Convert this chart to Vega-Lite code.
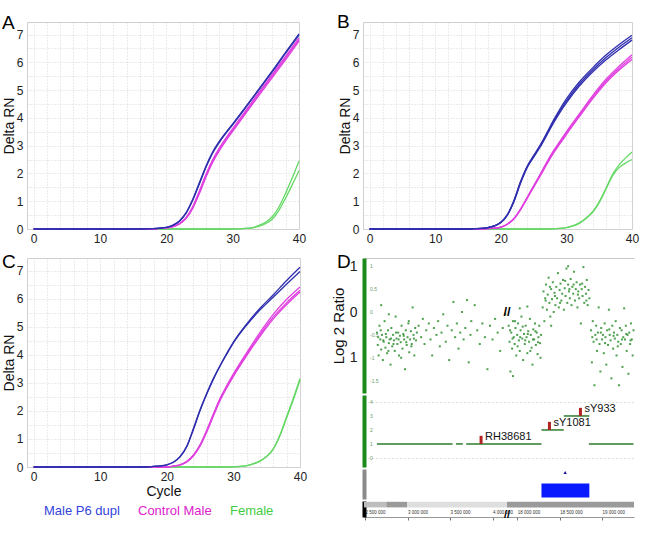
{
"$schema":"https://vega.github.io/schema/vega-lite/v6.json",
"autosize":{"type":"pad"},
"padding":{"left":1,"top":12,"right":0,"bottom":0},
"background":"white",
"config":{"font":"Liberation Sans","view":{"stroke":"#d0d0d0"},"axis":{"labelFont":"Liberation Sans","titleFont":"Liberation Sans","labelColor":"#222","titleColor":"#111","titleFontWeight":"normal","labelOverlap":false},"text":{"font":"Liberation Sans"},"title":{"font":"Liberation Sans","fontSize":19,"fontWeight":"normal","color":"#000","anchor":"start","frame":"group","baseline":"alphabetic"}},
"datasets":{
"A":[
{"g":"Female","r":1,"c":0,"v":0},{"g":"Female","r":1,"c":30,"v":0},{"g":"Female","r":1,"c":32,"v":0.02},{"g":"Female","r":1,"c":33,"v":0.05},{"g":"Female","r":1,"c":34,"v":0.13},{"g":"Female","r":1,"c":35,"v":0.25},{"g":"Female","r":1,"c":36,"v":0.45},{"g":"Female","r":1,"c":37,"v":0.8},{"g":"Female","r":1,"c":38,"v":1.3},{"g":"Female","r":1,"c":39,"v":1.85},{"g":"Female","r":1,"c":40,"v":2.45},
{"g":"Female","r":2,"c":0,"v":0},{"g":"Female","r":2,"c":30,"v":0},{"g":"Female","r":2,"c":32,"v":0.02},{"g":"Female","r":2,"c":33,"v":0.04},{"g":"Female","r":2,"c":34,"v":0.1},{"g":"Female","r":2,"c":35,"v":0.2},{"g":"Female","r":2,"c":36,"v":0.36},{"g":"Female","r":2,"c":37,"v":0.68},{"g":"Female","r":2,"c":38,"v":1.12},{"g":"Female","r":2,"c":39,"v":1.6},{"g":"Female","r":2,"c":40,"v":2.1},
{"g":"Control Male","r":1,"c":0,"v":0},{"g":"Control Male","r":1,"c":18,"v":0},{"g":"Control Male","r":1,"c":19,"v":0.02},{"g":"Control Male","r":1,"c":20,"v":0.04},{"g":"Control Male","r":1,"c":21,"v":0.09},{"g":"Control Male","r":1,"c":22,"v":0.2},{"g":"Control Male","r":1,"c":23,"v":0.42},{"g":"Control Male","r":1,"c":24,"v":0.82},{"g":"Control Male","r":1,"c":25,"v":1.38},{"g":"Control Male","r":1,"c":26,"v":1.98},{"g":"Control Male","r":1,"c":27,"v":2.5},{"g":"Control Male","r":1,"c":28,"v":2.92},{"g":"Control Male","r":1,"c":29,"v":3.28},{"g":"Control Male","r":1,"c":30,"v":3.61},{"g":"Control Male","r":1,"c":32,"v":4.27},{"g":"Control Male","r":1,"c":34,"v":4.93},{"g":"Control Male","r":1,"c":36,"v":5.57},{"g":"Control Male","r":1,"c":38,"v":6.22},{"g":"Control Male","r":1,"c":40,"v":6.88},
{"g":"Control Male","r":2,"c":0,"v":0},{"g":"Control Male","r":2,"c":18,"v":0},{"g":"Control Male","r":2,"c":19,"v":0.02},{"g":"Control Male","r":2,"c":20,"v":0.04},{"g":"Control Male","r":2,"c":21,"v":0.09},{"g":"Control Male","r":2,"c":22,"v":0.19},{"g":"Control Male","r":2,"c":23,"v":0.4},{"g":"Control Male","r":2,"c":24,"v":0.78},{"g":"Control Male","r":2,"c":25,"v":1.33},{"g":"Control Male","r":2,"c":26,"v":1.93},{"g":"Control Male","r":2,"c":27,"v":2.45},{"g":"Control Male","r":2,"c":28,"v":2.87},{"g":"Control Male","r":2,"c":29,"v":3.23},{"g":"Control Male","r":2,"c":30,"v":3.56},{"g":"Control Male","r":2,"c":32,"v":4.22},{"g":"Control Male","r":2,"c":34,"v":4.88},{"g":"Control Male","r":2,"c":36,"v":5.52},{"g":"Control Male","r":2,"c":38,"v":6.17},{"g":"Control Male","r":2,"c":40,"v":6.82},
{"g":"Control Male","r":3,"c":0,"v":0},{"g":"Control Male","r":3,"c":18,"v":0},{"g":"Control Male","r":3,"c":19,"v":0.02},{"g":"Control Male","r":3,"c":20,"v":0.04},{"g":"Control Male","r":3,"c":21,"v":0.08},{"g":"Control Male","r":3,"c":22,"v":0.18},{"g":"Control Male","r":3,"c":23,"v":0.38},{"g":"Control Male","r":3,"c":24,"v":0.75},{"g":"Control Male","r":3,"c":25,"v":1.28},{"g":"Control Male","r":3,"c":26,"v":1.88},{"g":"Control Male","r":3,"c":27,"v":2.4},{"g":"Control Male","r":3,"c":28,"v":2.82},{"g":"Control Male","r":3,"c":29,"v":3.18},{"g":"Control Male","r":3,"c":30,"v":3.51},{"g":"Control Male","r":3,"c":32,"v":4.17},{"g":"Control Male","r":3,"c":34,"v":4.82},{"g":"Control Male","r":3,"c":36,"v":5.46},{"g":"Control Male","r":3,"c":38,"v":6.1},{"g":"Control Male","r":3,"c":40,"v":6.76},
{"g":"Male P6 dupl","r":1,"c":0,"v":0},{"g":"Male P6 dupl","r":1,"c":16,"v":0},{"g":"Male P6 dupl","r":1,"c":18,"v":0.01},{"g":"Male P6 dupl","r":1,"c":19,"v":0.03},{"g":"Male P6 dupl","r":1,"c":20,"v":0.06},{"g":"Male P6 dupl","r":1,"c":21,"v":0.14},{"g":"Male P6 dupl","r":1,"c":22,"v":0.3},{"g":"Male P6 dupl","r":1,"c":23,"v":0.6},{"g":"Male P6 dupl","r":1,"c":24,"v":1.08},{"g":"Male P6 dupl","r":1,"c":25,"v":1.68},{"g":"Male P6 dupl","r":1,"c":26,"v":2.28},{"g":"Male P6 dupl","r":1,"c":27,"v":2.78},{"g":"Male P6 dupl","r":1,"c":28,"v":3.16},{"g":"Male P6 dupl","r":1,"c":29,"v":3.48},{"g":"Male P6 dupl","r":1,"c":30,"v":3.78},{"g":"Male P6 dupl","r":1,"c":32,"v":4.41},{"g":"Male P6 dupl","r":1,"c":34,"v":5.05},{"g":"Male P6 dupl","r":1,"c":36,"v":5.7},{"g":"Male P6 dupl","r":1,"c":38,"v":6.37},{"g":"Male P6 dupl","r":1,"c":40,"v":7.02},
{"g":"Male P6 dupl","r":2,"c":0,"v":0},{"g":"Male P6 dupl","r":2,"c":16,"v":0},{"g":"Male P6 dupl","r":2,"c":18,"v":0.01},{"g":"Male P6 dupl","r":2,"c":19,"v":0.03},{"g":"Male P6 dupl","r":2,"c":20,"v":0.06},{"g":"Male P6 dupl","r":2,"c":21,"v":0.13},{"g":"Male P6 dupl","r":2,"c":22,"v":0.28},{"g":"Male P6 dupl","r":2,"c":23,"v":0.57},{"g":"Male P6 dupl","r":2,"c":24,"v":1.04},{"g":"Male P6 dupl","r":2,"c":25,"v":1.63},{"g":"Male P6 dupl","r":2,"c":26,"v":2.23},{"g":"Male P6 dupl","r":2,"c":27,"v":2.74},{"g":"Male P6 dupl","r":2,"c":28,"v":3.12},{"g":"Male P6 dupl","r":2,"c":29,"v":3.45},{"g":"Male P6 dupl","r":2,"c":30,"v":3.75},{"g":"Male P6 dupl","r":2,"c":32,"v":4.38},{"g":"Male P6 dupl","r":2,"c":34,"v":5.02},{"g":"Male P6 dupl","r":2,"c":36,"v":5.66},{"g":"Male P6 dupl","r":2,"c":38,"v":6.33},{"g":"Male P6 dupl","r":2,"c":40,"v":6.98}
],
"B":[
{"g":"Female","r":1,"c":0,"v":0},{"g":"Female","r":1,"c":27,"v":0},{"g":"Female","r":1,"c":29,"v":0.02},{"g":"Female","r":1,"c":30,"v":0.05},{"g":"Female","r":1,"c":31,"v":0.11},{"g":"Female","r":1,"c":32,"v":0.22},{"g":"Female","r":1,"c":33,"v":0.4},{"g":"Female","r":1,"c":34,"v":0.62},{"g":"Female","r":1,"c":35,"v":0.98},{"g":"Female","r":1,"c":36,"v":1.45},{"g":"Female","r":1,"c":37,"v":1.95},{"g":"Female","r":1,"c":38,"v":2.3},{"g":"Female","r":1,"c":39,"v":2.55},{"g":"Female","r":1,"c":40,"v":2.77},
{"g":"Female","r":2,"c":0,"v":0},{"g":"Female","r":2,"c":27,"v":0},{"g":"Female","r":2,"c":29,"v":0.02},{"g":"Female","r":2,"c":30,"v":0.05},{"g":"Female","r":2,"c":31,"v":0.11},{"g":"Female","r":2,"c":32,"v":0.21},{"g":"Female","r":2,"c":33,"v":0.38},{"g":"Female","r":2,"c":34,"v":0.6},{"g":"Female","r":2,"c":35,"v":0.95},{"g":"Female","r":2,"c":36,"v":1.42},{"g":"Female","r":2,"c":37,"v":1.9},{"g":"Female","r":2,"c":38,"v":2.2},{"g":"Female","r":2,"c":39,"v":2.37},{"g":"Female","r":2,"c":40,"v":2.5},
{"g":"Control Male","r":1,"c":0,"v":0},{"g":"Control Male","r":1,"c":17,"v":0},{"g":"Control Male","r":1,"c":18,"v":0.01},{"g":"Control Male","r":1,"c":19,"v":0.03},{"g":"Control Male","r":1,"c":20,"v":0.07},{"g":"Control Male","r":1,"c":21,"v":0.18},{"g":"Control Male","r":1,"c":22,"v":0.38},{"g":"Control Male","r":1,"c":23,"v":0.72},{"g":"Control Male","r":1,"c":24,"v":1.13},{"g":"Control Male","r":1,"c":25,"v":1.55},{"g":"Control Male","r":1,"c":26,"v":1.97},{"g":"Control Male","r":1,"c":27,"v":2.4},{"g":"Control Male","r":1,"c":28,"v":2.8},{"g":"Control Male","r":1,"c":29,"v":3.15},{"g":"Control Male","r":1,"c":30,"v":3.5},{"g":"Control Male","r":1,"c":32,"v":4.15},{"g":"Control Male","r":1,"c":34,"v":4.8},{"g":"Control Male","r":1,"c":36,"v":5.38},{"g":"Control Male","r":1,"c":38,"v":5.85},{"g":"Control Male","r":1,"c":40,"v":6.27},
{"g":"Control Male","r":2,"c":0,"v":0},{"g":"Control Male","r":2,"c":17,"v":0},{"g":"Control Male","r":2,"c":18,"v":0.01},{"g":"Control Male","r":2,"c":19,"v":0.03},{"g":"Control Male","r":2,"c":20,"v":0.07},{"g":"Control Male","r":2,"c":21,"v":0.17},{"g":"Control Male","r":2,"c":22,"v":0.37},{"g":"Control Male","r":2,"c":23,"v":0.7},{"g":"Control Male","r":2,"c":24,"v":1.11},{"g":"Control Male","r":2,"c":25,"v":1.53},{"g":"Control Male","r":2,"c":26,"v":1.94},{"g":"Control Male","r":2,"c":27,"v":2.36},{"g":"Control Male","r":2,"c":28,"v":2.76},{"g":"Control Male","r":2,"c":29,"v":3.1},{"g":"Control Male","r":2,"c":30,"v":3.45},{"g":"Control Male","r":2,"c":32,"v":4.1},{"g":"Control Male","r":2,"c":34,"v":4.74},{"g":"Control Male","r":2,"c":36,"v":5.31},{"g":"Control Male","r":2,"c":38,"v":5.77},{"g":"Control Male","r":2,"c":40,"v":6.18},
{"g":"Control Male","r":3,"c":0,"v":0},{"g":"Control Male","r":3,"c":17,"v":0},{"g":"Control Male","r":3,"c":18,"v":0.01},{"g":"Control Male","r":3,"c":19,"v":0.03},{"g":"Control Male","r":3,"c":20,"v":0.06},{"g":"Control Male","r":3,"c":21,"v":0.17},{"g":"Control Male","r":3,"c":22,"v":0.36},{"g":"Control Male","r":3,"c":23,"v":0.69},{"g":"Control Male","r":3,"c":24,"v":1.09},{"g":"Control Male","r":3,"c":25,"v":1.5},{"g":"Control Male","r":3,"c":26,"v":1.9},{"g":"Control Male","r":3,"c":27,"v":2.32},{"g":"Control Male","r":3,"c":28,"v":2.72},{"g":"Control Male","r":3,"c":29,"v":3.06},{"g":"Control Male","r":3,"c":30,"v":3.4},{"g":"Control Male","r":3,"c":32,"v":4.05},{"g":"Control Male","r":3,"c":34,"v":4.68},{"g":"Control Male","r":3,"c":36,"v":5.25},{"g":"Control Male","r":3,"c":38,"v":5.71},{"g":"Control Male","r":3,"c":40,"v":6.1},
{"g":"Male P6 dupl","r":1,"c":0,"v":0},{"g":"Male P6 dupl","r":1,"c":15,"v":0},{"g":"Male P6 dupl","r":1,"c":16,"v":0.01},{"g":"Male P6 dupl","r":1,"c":17,"v":0.02},{"g":"Male P6 dupl","r":1,"c":18,"v":0.05},{"g":"Male P6 dupl","r":1,"c":19,"v":0.11},{"g":"Male P6 dupl","r":1,"c":20,"v":0.24},{"g":"Male P6 dupl","r":1,"c":21,"v":0.52},{"g":"Male P6 dupl","r":1,"c":22,"v":1.03},{"g":"Male P6 dupl","r":1,"c":23,"v":1.7},{"g":"Male P6 dupl","r":1,"c":24,"v":2.25},{"g":"Male P6 dupl","r":1,"c":25,"v":2.64},{"g":"Male P6 dupl","r":1,"c":26,"v":3.02},{"g":"Male P6 dupl","r":1,"c":27,"v":3.45},{"g":"Male P6 dupl","r":1,"c":28,"v":3.9},{"g":"Male P6 dupl","r":1,"c":29,"v":4.31},{"g":"Male P6 dupl","r":1,"c":30,"v":4.68},{"g":"Male P6 dupl","r":1,"c":32,"v":5.3},{"g":"Male P6 dupl","r":1,"c":34,"v":5.8},{"g":"Male P6 dupl","r":1,"c":36,"v":6.25},{"g":"Male P6 dupl","r":1,"c":38,"v":6.63},{"g":"Male P6 dupl","r":1,"c":40,"v":6.97},
{"g":"Male P6 dupl","r":2,"c":0,"v":0},{"g":"Male P6 dupl","r":2,"c":15,"v":0},{"g":"Male P6 dupl","r":2,"c":16,"v":0.01},{"g":"Male P6 dupl","r":2,"c":17,"v":0.02},{"g":"Male P6 dupl","r":2,"c":18,"v":0.05},{"g":"Male P6 dupl","r":2,"c":19,"v":0.11},{"g":"Male P6 dupl","r":2,"c":20,"v":0.23},{"g":"Male P6 dupl","r":2,"c":21,"v":0.5},{"g":"Male P6 dupl","r":2,"c":22,"v":1.0},{"g":"Male P6 dupl","r":2,"c":23,"v":1.67},{"g":"Male P6 dupl","r":2,"c":24,"v":2.22},{"g":"Male P6 dupl","r":2,"c":25,"v":2.61},{"g":"Male P6 dupl","r":2,"c":26,"v":2.98},{"g":"Male P6 dupl","r":2,"c":27,"v":3.41},{"g":"Male P6 dupl","r":2,"c":28,"v":3.85},{"g":"Male P6 dupl","r":2,"c":29,"v":4.25},{"g":"Male P6 dupl","r":2,"c":30,"v":4.6},{"g":"Male P6 dupl","r":2,"c":32,"v":5.22},{"g":"Male P6 dupl","r":2,"c":34,"v":5.72},{"g":"Male P6 dupl","r":2,"c":36,"v":6.16},{"g":"Male P6 dupl","r":2,"c":38,"v":6.54},{"g":"Male P6 dupl","r":2,"c":40,"v":6.88},
{"g":"Male P6 dupl","r":3,"c":0,"v":0},{"g":"Male P6 dupl","r":3,"c":15,"v":0},{"g":"Male P6 dupl","r":3,"c":16,"v":0.01},{"g":"Male P6 dupl","r":3,"c":17,"v":0.02},{"g":"Male P6 dupl","r":3,"c":18,"v":0.05},{"g":"Male P6 dupl","r":3,"c":19,"v":0.1},{"g":"Male P6 dupl","r":3,"c":20,"v":0.23},{"g":"Male P6 dupl","r":3,"c":21,"v":0.5},{"g":"Male P6 dupl","r":3,"c":22,"v":0.98},{"g":"Male P6 dupl","r":3,"c":23,"v":1.64},{"g":"Male P6 dupl","r":3,"c":24,"v":2.2},{"g":"Male P6 dupl","r":3,"c":25,"v":2.58},{"g":"Male P6 dupl","r":3,"c":26,"v":2.95},{"g":"Male P6 dupl","r":3,"c":27,"v":3.37},{"g":"Male P6 dupl","r":3,"c":28,"v":3.8},{"g":"Male P6 dupl","r":3,"c":29,"v":4.19},{"g":"Male P6 dupl","r":3,"c":30,"v":4.54},{"g":"Male P6 dupl","r":3,"c":32,"v":5.15},{"g":"Male P6 dupl","r":3,"c":34,"v":5.65},{"g":"Male P6 dupl","r":3,"c":36,"v":6.08},{"g":"Male P6 dupl","r":3,"c":38,"v":6.45},{"g":"Male P6 dupl","r":3,"c":40,"v":6.8}
],
"C":[
{"g":"Female","r":1,"c":0,"v":0},{"g":"Female","r":1,"c":29,"v":0},{"g":"Female","r":1,"c":31,"v":0.02},{"g":"Female","r":1,"c":32,"v":0.05},{"g":"Female","r":1,"c":33,"v":0.12},{"g":"Female","r":1,"c":34,"v":0.22},{"g":"Female","r":1,"c":35,"v":0.38},{"g":"Female","r":1,"c":36,"v":0.66},{"g":"Female","r":1,"c":37,"v":1.15},{"g":"Female","r":1,"c":38,"v":1.8},{"g":"Female","r":1,"c":39,"v":2.45},{"g":"Female","r":1,"c":40,"v":3.15},
{"g":"Female","r":2,"c":0,"v":0},{"g":"Female","r":2,"c":29,"v":0},{"g":"Female","r":2,"c":31,"v":0.02},{"g":"Female","r":2,"c":32,"v":0.05},{"g":"Female","r":2,"c":33,"v":0.11},{"g":"Female","r":2,"c":34,"v":0.21},{"g":"Female","r":2,"c":35,"v":0.37},{"g":"Female","r":2,"c":36,"v":0.64},{"g":"Female","r":2,"c":37,"v":1.12},{"g":"Female","r":2,"c":38,"v":1.76},{"g":"Female","r":2,"c":39,"v":2.4},{"g":"Female","r":2,"c":40,"v":3.1},
{"g":"Control Male","r":1,"c":0,"v":0},{"g":"Control Male","r":1,"c":20,"v":0},{"g":"Control Male","r":1,"c":21,"v":0.03},{"g":"Control Male","r":1,"c":22,"v":0.08},{"g":"Control Male","r":1,"c":23,"v":0.2},{"g":"Control Male","r":1,"c":24,"v":0.43},{"g":"Control Male","r":1,"c":25,"v":0.8},{"g":"Control Male","r":1,"c":26,"v":1.32},{"g":"Control Male","r":1,"c":27,"v":1.9},{"g":"Control Male","r":1,"c":28,"v":2.45},{"g":"Control Male","r":1,"c":29,"v":2.9},{"g":"Control Male","r":1,"c":30,"v":3.32},{"g":"Control Male","r":1,"c":32,"v":4.08},{"g":"Control Male","r":1,"c":34,"v":4.8},{"g":"Control Male","r":1,"c":36,"v":5.45},{"g":"Control Male","r":1,"c":38,"v":5.98},{"g":"Control Male","r":1,"c":40,"v":6.42},
{"g":"Control Male","r":2,"c":0,"v":0},{"g":"Control Male","r":2,"c":20,"v":0},{"g":"Control Male","r":2,"c":21,"v":0.03},{"g":"Control Male","r":2,"c":22,"v":0.08},{"g":"Control Male","r":2,"c":23,"v":0.19},{"g":"Control Male","r":2,"c":24,"v":0.41},{"g":"Control Male","r":2,"c":25,"v":0.77},{"g":"Control Male","r":2,"c":26,"v":1.28},{"g":"Control Male","r":2,"c":27,"v":1.86},{"g":"Control Male","r":2,"c":28,"v":2.41},{"g":"Control Male","r":2,"c":29,"v":2.86},{"g":"Control Male","r":2,"c":30,"v":3.27},{"g":"Control Male","r":2,"c":32,"v":4.02},{"g":"Control Male","r":2,"c":34,"v":4.72},{"g":"Control Male","r":2,"c":36,"v":5.35},{"g":"Control Male","r":2,"c":38,"v":5.86},{"g":"Control Male","r":2,"c":40,"v":6.3},
{"g":"Control Male","r":3,"c":0,"v":0},{"g":"Control Male","r":3,"c":20,"v":0},{"g":"Control Male","r":3,"c":21,"v":0.03},{"g":"Control Male","r":3,"c":22,"v":0.07},{"g":"Control Male","r":3,"c":23,"v":0.18},{"g":"Control Male","r":3,"c":24,"v":0.4},{"g":"Control Male","r":3,"c":25,"v":0.75},{"g":"Control Male","r":3,"c":26,"v":1.25},{"g":"Control Male","r":3,"c":27,"v":1.82},{"g":"Control Male","r":3,"c":28,"v":2.37},{"g":"Control Male","r":3,"c":29,"v":2.82},{"g":"Control Male","r":3,"c":30,"v":3.23},{"g":"Control Male","r":3,"c":32,"v":3.97},{"g":"Control Male","r":3,"c":34,"v":4.66},{"g":"Control Male","r":3,"c":36,"v":5.28},{"g":"Control Male","r":3,"c":38,"v":5.79},{"g":"Control Male","r":3,"c":40,"v":6.24},
{"g":"Male P6 dupl","r":1,"c":0,"v":0},{"g":"Male P6 dupl","r":1,"c":17,"v":0},{"g":"Male P6 dupl","r":1,"c":18,"v":0.02},{"g":"Male P6 dupl","r":1,"c":19,"v":0.04},{"g":"Male P6 dupl","r":1,"c":20,"v":0.08},{"g":"Male P6 dupl","r":1,"c":21,"v":0.18},{"g":"Male P6 dupl","r":1,"c":22,"v":0.38},{"g":"Male P6 dupl","r":1,"c":23,"v":0.75},{"g":"Male P6 dupl","r":1,"c":24,"v":1.38},{"g":"Male P6 dupl","r":1,"c":25,"v":2.05},{"g":"Male P6 dupl","r":1,"c":26,"v":2.63},{"g":"Male P6 dupl","r":1,"c":27,"v":3.16},{"g":"Male P6 dupl","r":1,"c":28,"v":3.62},{"g":"Male P6 dupl","r":1,"c":29,"v":4.05},{"g":"Male P6 dupl","r":1,"c":30,"v":4.45},{"g":"Male P6 dupl","r":1,"c":32,"v":5.1},{"g":"Male P6 dupl","r":1,"c":34,"v":5.66},{"g":"Male P6 dupl","r":1,"c":36,"v":6.14},{"g":"Male P6 dupl","r":1,"c":38,"v":6.65},{"g":"Male P6 dupl","r":1,"c":40,"v":7.12},
{"g":"Male P6 dupl","r":2,"c":0,"v":0},{"g":"Male P6 dupl","r":2,"c":17,"v":0},{"g":"Male P6 dupl","r":2,"c":18,"v":0.02},{"g":"Male P6 dupl","r":2,"c":19,"v":0.04},{"g":"Male P6 dupl","r":2,"c":20,"v":0.08},{"g":"Male P6 dupl","r":2,"c":21,"v":0.17},{"g":"Male P6 dupl","r":2,"c":22,"v":0.36},{"g":"Male P6 dupl","r":2,"c":23,"v":0.72},{"g":"Male P6 dupl","r":2,"c":24,"v":1.34},{"g":"Male P6 dupl","r":2,"c":25,"v":2.01},{"g":"Male P6 dupl","r":2,"c":26,"v":2.6},{"g":"Male P6 dupl","r":2,"c":27,"v":3.13},{"g":"Male P6 dupl","r":2,"c":28,"v":3.6},{"g":"Male P6 dupl","r":2,"c":29,"v":4.02},{"g":"Male P6 dupl","r":2,"c":30,"v":4.42},{"g":"Male P6 dupl","r":2,"c":32,"v":5.06},{"g":"Male P6 dupl","r":2,"c":34,"v":5.6},{"g":"Male P6 dupl","r":2,"c":36,"v":6.06},{"g":"Male P6 dupl","r":2,"c":38,"v":6.52},{"g":"Male P6 dupl","r":2,"c":40,"v":6.97}
],
"D":[
{"p":2.64,"r":-0.45},{"p":2.65,"r":-0.72},{"p":2.66,"r":-0.95},{"p":2.67,"r":-0.3},{"p":2.68,"r":-0.6},{"p":2.69,"r":-0.82},{"p":2.7,"r":-0.5},{"p":2.71,"r":-1.05},{"p":2.72,"r":-0.65},{"p":2.73,"r":-0.2},{"p":2.74,"r":-0.78},{"p":2.75,"r":-0.55},{"p":2.76,"r":-0.9},{"p":2.77,"r":-0.4},{"p":2.78,"r":-0.68},{"p":2.79,"r":-0.6},{"p":2.8,"r":-1.15},{"p":2.81,"r":-0.35},{"p":2.82,"r":-0.75},{"p":2.83,"r":-0.5},{"p":2.84,"r":-0.62},{"p":2.85,"r":-0.85},{"p":2.86,"r":-0.1},{"p":2.87,"r":-0.58},{"p":2.88,"r":-0.7},{"p":2.89,"r":-0.45},{"p":2.9,"r":-0.95},{"p":2.91,"r":-0.52},{"p":2.92,"r":-0.66},{"p":2.93,"r":-0.3},{"p":2.94,"r":-0.8},{"p":2.95,"r":-0.48},{"p":2.96,"r":-0.6},{"p":2.97,"r":-1.25},{"p":2.98,"r":-0.4},{"p":2.99,"r":-0.72},{"p":3.0,"r":-0.55},{"p":3.01,"r":-0.25},{"p":3.02,"r":-0.88},{"p":3.03,"r":-0.6},{"p":3.04,"r":-0.42},{"p":3.05,"r":-0.7},{"p":3.06,"r":0.1},{"p":3.07,"r":-0.5},{"p":3.08,"r":-0.95},{"p":3.09,"r":-0.35},{"p":3.1,"r":-0.62},{"p":3.11,"r":-0.45},
{"p":2.655,"r":-0.55},{"p":2.685,"r":-0.4},{"p":2.715,"r":-0.62},{"p":2.745,"r":-0.48},{"p":2.775,"r":-0.85},{"p":2.805,"r":-0.58},{"p":2.835,"r":-0.7},{"p":2.865,"r":-0.45},{"p":2.895,"r":-0.6},{"p":2.925,"r":-1.0},{"p":2.955,"r":-0.52},{"p":2.985,"r":-0.66},{"p":3.015,"r":-0.2},{"p":3.045,"r":-0.75},{"p":3.075,"r":-0.58},{"p":2.69,"r":0.15},{"p":2.78,"r":-0.05},
{"p":3.13,"r":-0.3},{"p":3.16,"r":-0.55},{"p":3.18,"r":-0.15},{"p":3.2,"r":-0.7},{"p":3.22,"r":-0.4},{"p":3.25,"r":-0.25},{"p":3.27,"r":-0.6},{"p":3.29,"r":-0.95},{"p":3.31,"r":-0.35},{"p":3.34,"r":-0.5},{"p":3.36,"r":-0.2},{"p":3.38,"r":-0.75},{"p":3.4,"r":-0.45},{"p":3.42,"r":-0.05},{"p":3.45,"r":-0.65},{"p":3.47,"r":-0.3},{"p":3.49,"r":-1.05},{"p":3.52,"r":-0.4},{"p":3.54,"r":0.22},{"p":3.56,"r":-0.55},{"p":3.58,"r":-0.25},{"p":3.6,"r":-0.8},{"p":3.62,"r":-0.45},{"p":3.64,"r":0.0},{"p":3.66,"r":-0.6},{"p":3.68,"r":-0.35},{"p":3.7,"r":0.26},{"p":3.72,"r":-1.1},{"p":3.74,"r":-0.5},{"p":3.75,"r":-0.2},
{"p":3.79,"r":0.15},{"p":3.82,"r":-0.4},{"p":3.85,"r":-0.7},{"p":3.88,"r":-0.25},{"p":3.91,"r":-0.55},{"p":3.94,"r":-1.25},{"p":3.97,"r":-0.3},{"p":4.0,"r":-0.6},{"p":4.03,"r":-0.15},{"p":4.06,"r":-0.45},{"p":4.09,"r":-0.85},{"p":4.12,"r":-0.35},{"p":4.15,"r":-0.05},
{"p":17.9,"r":-0.3},{"p":17.91,"r":-0.65},{"p":17.92,"r":-1.3},{"p":17.93,"r":-0.45},{"p":17.94,"r":-0.8},{"p":17.95,"r":-0.2},{"p":17.96,"r":-0.55},{"p":17.97,"r":-0.7},{"p":17.98,"r":-0.35},{"p":17.99,"r":-0.95},{"p":18.0,"r":-0.5},{"p":18.01,"r":-0.25},{"p":18.02,"r":-0.62},{"p":18.03,"r":-0.85},{"p":18.04,"r":-0.4},{"p":18.05,"r":-0.1},{"p":18.06,"r":-0.58},{"p":18.07,"r":-1.05},{"p":18.08,"r":-0.48},{"p":18.09,"r":-0.7},{"p":18.1,"r":-0.3},{"p":18.11,"r":-0.55},{"p":18.12,"r":-0.9},{"p":18.13,"r":-0.42},{"p":18.14,"r":-0.65},{"p":18.15,"r":-0.15},{"p":18.16,"r":-0.5},{"p":18.17,"r":-0.78},{"p":18.18,"r":-1.15},{"p":18.19,"r":-0.38},{"p":18.2,"r":-0.6},{"p":18.21,"r":-0.25},{"p":18.22,"r":-0.72},{"p":18.23,"r":-0.45},{"p":18.24,"r":-0.92},{"p":18.25,"r":-0.55},{"p":18.26,"r":-0.3},{"p":18.27,"r":-0.68},{"p":18.28,"r":-0.5},
{"p":17.915,"r":-0.4},{"p":17.945,"r":-0.58},{"p":17.975,"r":-0.2},{"p":18.005,"r":-0.75},{"p":18.035,"r":-0.55},{"p":18.065,"r":-0.32},{"p":18.095,"r":-0.62},{"p":18.125,"r":-0.48},{"p":18.155,"r":-0.85},{"p":18.185,"r":-0.6},{"p":18.215,"r":-0.42},{"p":18.245,"r":-0.66},{"p":18.275,"r":-1.0},{"p":18.03,"r":0.08},{"p":18.12,"r":0.12},{"p":17.95,"r":-1.4},
{"p":18.3,"r":0.1},{"p":18.31,"r":0.45},{"p":18.32,"r":-0.2},{"p":18.33,"r":0.3},{"p":18.34,"r":0.6},{"p":18.35,"r":0.05},{"p":18.36,"r":0.38},{"p":18.37,"r":0.75},{"p":18.38,"r":0.2},{"p":18.39,"r":-0.1},{"p":18.4,"r":0.5},{"p":18.41,"r":0.28},{"p":18.42,"r":0.65},{"p":18.43,"r":0.0},{"p":18.44,"r":0.42},{"p":18.45,"r":0.15},{"p":18.46,"r":0.55},{"p":18.47,"r":0.3},{"p":18.48,"r":0.85},{"p":18.49,"r":0.1},{"p":18.5,"r":0.48},{"p":18.51,"r":0.62},{"p":18.52,"r":0.25},{"p":18.53,"r":0.4},{"p":18.54,"r":0.7},{"p":18.55,"r":0.05},{"p":18.56,"r":0.52},{"p":18.57,"r":0.35},{"p":18.58,"r":0.95},{"p":18.59,"r":0.2},{"p":18.6,"r":0.6},{"p":18.61,"r":0.45},{"p":18.62,"r":0.3},{"p":18.63,"r":0.72},{"p":18.64,"r":0.15},{"p":18.65,"r":0.55},{"p":18.66,"r":0.4},{"p":18.67,"r":0.88},{"p":18.68,"r":0.25},{"p":18.69,"r":0.5},{"p":18.7,"r":0.65},{"p":18.71,"r":0.1},{"p":18.72,"r":0.45},{"p":18.73,"r":0.3},{"p":18.74,"r":0.6},{"p":18.75,"r":-0.25},{"p":18.76,"r":0.5},{"p":18.77,"r":0.35},{"p":18.78,"r":0.98},{"p":18.79,"r":0.2},{"p":18.8,"r":0.55},{"p":18.81,"r":0.4},{"p":18.82,"r":0.7},{"p":18.83,"r":0.15},{"p":18.84,"r":0.48},{"p":18.85,"r":0.3},
{"p":18.335,"r":0.25},{"p":18.385,"r":0.55},{"p":18.445,"r":0.35},{"p":18.505,"r":0.2},{"p":18.565,"r":0.68},{"p":18.615,"r":0.5},{"p":18.665,"r":0.6},{"p":18.715,"r":0.38},{"p":18.765,"r":0.62},{"p":18.815,"r":0.25},{"p":18.4,"r":-0.3},{"p":18.6,"r":1.0},
{"p":18.87,"r":-0.4},{"p":18.88,"r":-1.1},{"p":18.89,"r":-0.2},{"p":18.9,"r":-0.65},{"p":18.91,"r":-1.6},{"p":18.92,"r":-0.5},{"p":18.93,"r":-0.3},{"p":18.94,"r":-0.85},{"p":18.95,"r":-0.45},{"p":18.96,"r":0.1},{"p":18.97,"r":-0.7},{"p":18.98,"r":-1.3},{"p":18.99,"r":-0.35},{"p":19.0,"r":-0.6},{"p":19.01,"r":-0.5},{"p":19.02,"r":-0.9},{"p":19.03,"r":-0.25},{"p":19.04,"r":-0.55},{"p":19.05,"r":-1.15},{"p":19.06,"r":-0.4},{"p":19.07,"r":-0.72},{"p":19.08,"r":0.05},{"p":19.09,"r":-0.5},{"p":19.1,"r":-0.62},{"p":19.11,"r":-1.45},{"p":19.12,"r":-0.3},{"p":19.13,"r":-0.8},{"p":19.14,"r":-0.45},{"p":19.15,"r":-0.58},{"p":19.16,"r":-0.2},{"p":19.17,"r":-0.95},{"p":19.18,"r":-0.5},{"p":19.19,"r":-0.65},{"p":19.2,"r":-1.6},{"p":19.21,"r":-0.35},{"p":19.22,"r":-0.7},{"p":19.23,"r":-0.4},{"p":19.24,"r":-1.2},{"p":19.25,"r":-0.55},{"p":19.26,"r":0.08},{"p":19.27,"r":-0.6},{"p":19.28,"r":-0.3},{"p":19.29,"r":-0.85},{"p":19.3,"r":-0.5},{"p":19.31,"r":-1.35},{"p":19.32,"r":-0.45},{"p":19.33,"r":-0.7},{"p":19.34,"r":-0.25},{"p":19.35,"r":-0.6},{"p":19.36,"r":-0.95},{"p":19.37,"r":-0.4},
{"p":18.885,"r":-0.55},{"p":18.935,"r":-0.6},{"p":18.985,"r":-0.45},{"p":19.035,"r":-0.68},{"p":19.085,"r":-0.38},{"p":19.135,"r":-0.52},{"p":19.185,"r":-0.75},{"p":19.235,"r":-0.6},{"p":19.285,"r":-0.48},{"p":19.335,"r":-0.62}
],
"segs":[{"x1":2.64,"x2":3.53,"lvl":1},{"x1":3.57,"x2":3.65,"lvl":1},{"x1":3.69,"x2":18.286,"lvl":1},{"x1":18.844,"x2":19.37,"lvl":1},{"x1":18.286,"x2":18.549,"lvl":2},{"x1":18.549,"x2":18.85,"lvl":3}],
"probes":[{"name":"RH38681","x":3.865,"lvl":1,"top":1.58},{"name":"sY1081","x":18.38,"lvl":2,"top":2.58},{"name":"sY933","x":18.745,"lvl":3,"top":3.58}]
},
"vconcat":[
{"hconcat":[
{"width":272,"height":207,
 "title":{"text":"A","dx":-25,"offset":-11},
 "data":{"name":"A"},"mark":{"type":"line","strokeWidth":1.3,"interpolate":"monotone"},
  "encoding":{
   "x":{"field":"c","type":"quantitative","scale":{"domain":[-1,40],"nice":false,"zero":false},"axis":{"title":null,"values":[0,2,4,6,8,10,12,14,16,18,20,22,24,26,28,30,32,34,36,38,40],"labelExpr":"datum.value % 10 === 0 ? format(datum.value, 'd') : ''","labelOverlap":false,"grid":true,"gridColor":"#d6d6d6","gridDash":[1,2],"domain":false,"ticks":false,"labelFontSize":12,"labelPadding":4,"labelFlush":false}},
   "y":{"field":"v","type":"quantitative","scale":{"domain":[0,7.45],"nice":false},"axis":{"title":"Delta RN","titleFontSize":14,"titlePadding":0,"values":[0,0.5,1,1.5,2,2.5,3,3.5,4,4.5,5,5.5,6,6.5,7],"labelExpr":"datum.value % 1 === 0 ? format(datum.value, 'd') : ''","labelOverlap":false,"grid":true,"gridColor":"#d6d6d6","gridDash":[1,2],"domain":false,"ticks":false,"labelFontSize":12,"labelPadding":4}},
   "color":{"field":"g","type":"nominal","scale":{"domain":["Male P6 dupl","Control Male","Female"],"range":["#2e2eae","#e040e0","#66d866"]},"legend":null},
   "detail":{"field":"r","type":"nominal"}}},
{"width":269,"height":207,
 "title":{"text":"B","dx":-26,"offset":-10},
 "data":{"name":"B"},"mark":{"type":"line","strokeWidth":1.3,"interpolate":"monotone"},
  "encoding":{
   "x":{"field":"c","type":"quantitative","scale":{"domain":[-1,40],"nice":false,"zero":false},"axis":{"title":null,"values":[0,2,4,6,8,10,12,14,16,18,20,22,24,26,28,30,32,34,36,38,40],"labelExpr":"datum.value % 10 === 0 ? format(datum.value, 'd') : ''","labelOverlap":false,"grid":true,"gridColor":"#d6d6d6","gridDash":[1,2],"domain":false,"ticks":false,"labelFontSize":12,"labelPadding":4,"labelFlush":false}},
   "y":{"field":"v","type":"quantitative","scale":{"domain":[0,7.45],"nice":false},"axis":{"title":"Delta RN","titleFontSize":14,"titlePadding":0,"values":[0,0.5,1,1.5,2,2.5,3,3.5,4,4.5,5,5.5,6,6.5,7],"labelExpr":"datum.value % 1 === 0 ? format(datum.value, 'd') : ''","labelOverlap":false,"grid":true,"gridColor":"#d6d6d6","gridDash":[1,2],"domain":false,"ticks":false,"labelFontSize":12,"labelPadding":4}},
   "color":{"field":"g","type":"nominal","scale":{"domain":["Male P6 dupl","Control Male","Female"],"range":["#2e2eae","#e040e0","#66d866"]},"legend":null},
   "detail":{"field":"r","type":"nominal"}}}
],"spacing":29,"resolve":{"scale":{"color":"independent","x":"independent","y":"independent"},"legend":{"color":"independent"}}},
{"hconcat":[
{"width":273,"height":209,
 "title":{"text":"C","dx":-25,"offset":-14},
 "data":{"name":"C"},"mark":{"type":"line","strokeWidth":1.3,"interpolate":"monotone"},
  "encoding":{
   "x":{"field":"c","type":"quantitative","scale":{"domain":[-1,40],"nice":false,"zero":false},"axis":{"title":"Cycle","titleFontSize":14,"titlePadding":2,"values":[0,2,4,6,8,10,12,14,16,18,20,22,24,26,28,30,32,34,36,38,40],"labelExpr":"datum.value % 10 === 0 ? format(datum.value, 'd') : ''","labelOverlap":false,"grid":true,"gridColor":"#d6d6d6","gridDash":[1,2],"domain":false,"ticks":false,"labelFontSize":12,"labelPadding":4,"labelFlush":false}},
   "y":{"field":"v","type":"quantitative","scale":{"domain":[0,7.45],"nice":false},"axis":{"title":"Delta RN","titleFontSize":14,"titlePadding":0,"values":[0,0.5,1,1.5,2,2.5,3,3.5,4,4.5,5,5.5,6,6.5,7],"labelExpr":"datum.value % 1 === 0 ? format(datum.value, 'd') : ''","labelOverlap":false,"grid":true,"gridColor":"#d6d6d6","gridDash":[1,2],"domain":false,"ticks":false,"labelFontSize":12,"labelPadding":4}},
   "color":{"field":"g","type":"nominal","scale":{"domain":["Male P6 dupl","Control Male","Female"],"range":["#2e2eae","#e040e0","#66d866"]},
     "legend":{"orient":"bottom","direction":"horizontal","title":null,"symbolSize":0,"symbolStrokeWidth":0,"symbolOpacity":0,"labelFontSize":13,"labelFont":"Liberation Sans","labelOffset":0,"columnPadding":5,"offset":2,"padding":4,
       "encode":{"labels":{"update":{"fill":{"signal":"datum.value === 'Male P6 dupl' ? '#3344dd' : datum.value === 'Control Male' ? '#dd22cc' : '#44cc44'"}}}}}},
   "detail":{"field":"r","type":"nominal"}}},
{"vconcat":[
 {"width":270,"height":135,"view":{"stroke":null},
  "title":{"text":"D","dx":-27,"offset":-14},
  "layer":[
  {"data":{"name":"D"},"mark":{"type":"square","size":4,"color":"#2f8f2f","opacity":0.85},
   "encoding":{
    "x":{"field":"p","type":"quantitative","scale":{"domain":[2.488,4.17,17.88,19.376],"range":[0,143,143,270],"nice":false,"zero":false},"axis":{"orient":"top","title":null,"labels":false,"ticks":false,"grid":false,"domainColor":"#c8c8c8","domainWidth":1}},
    "y":{"field":"r","type":"quantitative","scale":{"domain":[-1.77,1.18],"nice":false,"zero":false},"axis":{"title":"Log 2 Ratio","titleFontSize":15,"titlePadding":3,"values":[-1,0,1],"labelExpr":"format(abs(datum.value), 'd')","labelFontSize":14,"labelPadding":7,"ticks":false,"grid":false,"domainColor":"#1a8a1a","domainWidth":4}}}},
  {"mark":{"type":"rule","color":"#b5b5b5","strokeWidth":1},"encoding":{"y":{"datum":0}}},
  {"data":{"values":[{"v":1,"t":"1"},{"v":0.5,"t":"0.5"},{"v":0,"t":"0"},{"v":-0.5,"t":"-0.5"},{"v":-1,"t":"-1"},{"v":-1.5,"t":"-1.5"}]},"mark":{"type":"text","align":"left","baseline":"middle","dx":6,"fontSize":5,"color":"#6a9a6a"},
   "encoding":{"x":{"datum":2.488},"y":{"field":"v","type":"quantitative"},"text":{"field":"t"}}},
  {"data":{"values":[{"t":"//","p":4.17,"r":0}]},"mark":{"type":"text","fontSize":13,"fontWeight":"bold","baseline":"middle","color":"#000"},
   "encoding":{"x":{"field":"p","type":"quantitative"},"y":{"field":"r","type":"quantitative"},"text":{"field":"t"}}}
  ]},
 {"width":270,"height":72,"view":{"stroke":null},
  "layer":[
  {"data":{"name":"segs"},"mark":{"type":"rule","color":"#2d7d2d","strokeWidth":1.5},
   "encoding":{
    "x":{"field":"x1","type":"quantitative","scale":{"domain":[2.488,4.17,17.88,19.376],"range":[0,143,143,270],"nice":false,"zero":false},"axis":null},
    "x2":{"field":"x2"},
    "y":{"field":"lvl","type":"quantitative","scale":{"domain":[-0.65,4.5],"nice":false,"zero":false},"axis":{"title":null,"values":[0,1,2,3,4],"labels":false,"ticks":false,"grid":true,"gridColor":"#bdbdbd","gridDash":[1,3],"domainColor":"#1a8a1a","domainWidth":4}}}},
  {"data":{"name":"probes"},"mark":{"type":"rule","color":"#b22222","strokeWidth":3},
   "encoding":{"x":{"field":"x","type":"quantitative"},"y":{"field":"lvl","type":"quantitative"},"y2":{"field":"top"}}},
  {"data":{"name":"probes"},"mark":{"type":"text","align":"left","baseline":"middle","dx":4,"dy":1,"fontSize":11,"color":"#111"},
   "encoding":{"x":{"field":"x","type":"quantitative"},"y":{"field":"top","type":"quantitative"},"text":{"field":"name"}}},
  {"data":{"values":[{"v":4,"t":"4"},{"v":3,"t":"3"},{"v":2,"t":"2"},{"v":1,"t":"1"},{"v":0,"t":"0"}]},"mark":{"type":"text","align":"left","baseline":"middle","dx":6,"fontSize":5,"color":"#6a9a6a"},
   "encoding":{"x":{"datum":2.488},"y":{"field":"v","type":"quantitative"},"text":{"field":"t"}}}
  ]},
 {"width":270,"height":30,"view":{"stroke":null},
  "layer":[
  {"data":{"values":[{"name":"gene","start":18.286,"end":18.85}]},"mark":{"type":"rect","color":"#0a1aff"},
   "encoding":{
    "x":{"field":"start","type":"quantitative","scale":{"domain":[2.488,4.17,17.88,19.376],"range":[0,143,143,270],"nice":false,"zero":false},"axis":null},
    "x2":{"field":"end"},
    "y":{"datum":0.05,"type":"quantitative","scale":{"domain":[0,1],"nice":false,"zero":false},"axis":{"title":null,"labels":false,"ticks":false,"grid":false,"domainColor":"#8a8a8a","domainWidth":4}},
    "y2":{"datum":0.52}}},
  {"data":{"values":[{"p":18.565}]},"mark":{"type":"point","shape":"triangle-up","filled":true,"size":12,"color":"#1a1aa0","opacity":1},
   "encoding":{"x":{"field":"p","type":"quantitative"},"y":{"datum":0.88}}}
  ]},
 {"width":270,"height":16,"view":{"stroke":null},
  "layer":[
  {"data":{"values":[{"a":2.488,"b":2.75,"k":"h"},{"a":2.75,"b":2.994,"k":"d"},{"a":2.994,"b":4.17,"k":"l"},{"a":17.88,"b":19.376,"k":"d"}]},"mark":{"type":"rect"},
   "encoding":{
    "x":{"field":"a","type":"quantitative","scale":{"domain":[2.488,4.17,17.88,19.376],"range":[0,143,143,270],"nice":false,"zero":false},
      "axis":{"orient":"bottom","title":null,"values":[2.5,3,3.5,4,18,18.5,19],"labelExpr":"replace(replace(format(datum.value*1000000, ','), ',', ' '), ',', ' ')","labelFontSize":4.5,"labelAlign":"left","labelPadding":-11,"tickSize":3,"tickColor":"#777","domainColor":"#999","grid":false,"labelColor":"#333","labelFlush":false,"labelOverlap":false}},
    "x2":{"field":"b"},
    "y":{"datum":0.6,"type":"quantitative","scale":{"domain":[0,1],"nice":false,"zero":false},"axis":{"title":null,"labels":false,"ticks":false,"grid":false,"domainColor":"#000","domainWidth":4}},
    "y2":{"datum":0.95},
    "color":{"field":"k","type":"nominal","scale":{"domain":["h","d","l"],"range":["#bdbdbd","#9a9a9a","#dedede"]},"legend":null}}},
  {"data":{"values":[{"t":"//","p":4.17}]},"mark":{"type":"text","fontSize":11,"fontWeight":"bold","baseline":"middle","color":"#000"},
   "encoding":{"x":{"field":"p","type":"quantitative"},"y":{"datum":0.12},"text":{"field":"t"}}}
  ]}
],"spacing":2,"resolve":{"scale":{"color":"independent","y":"independent"},"legend":{"color":"independent"}}}
],"spacing":23,"resolve":{"scale":{"color":"independent","x":"independent","y":"independent"},"legend":{"color":"independent"}}}
],
"spacing":7,
"resolve":{"scale":{"color":"independent","x":"independent","y":"independent"},"legend":{"color":"independent"}}
}
